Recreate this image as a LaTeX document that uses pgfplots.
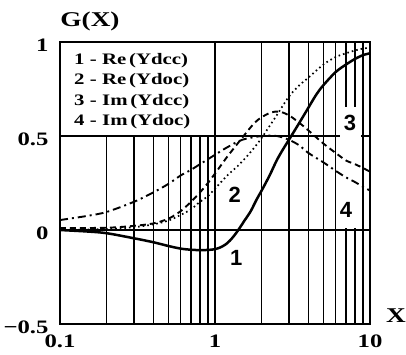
\documentclass[border=0pt]{standalone}
\usepackage{fontspec}
\setmainfont{Liberation Serif}[FakeStretch=1.3]
\newfontfamily\labelfont{Liberation Sans}
\usepackage{pgfplots}
\pgfplotsset{compat=1.18}

% Re and Im parts of the two admittances, G against X
\pgfplotstableread{
X     G
0.1   0
0.15  -0.008
0.2   -0.017
0.3   -0.044
0.4   -0.065
0.5   -0.085
0.6   -0.099
0.7   -0.105
0.8   -0.107
0.9   -0.106
1.0   -0.102
1.1   -0.09
1.2   -0.07
1.3   -0.04
1.4   -0.005
1.55  0.05
1.7   0.1
1.85  0.16
2.0   0.21
2.25  0.29
2.5   0.37
2.75  0.43
3.0   0.48
3.5   0.57
4.0   0.65
4.5   0.72
5.0   0.77
6.0   0.84
7.0   0.88
8.0   0.91
9.0   0.93
10    0.94
}\reYdcc
\pgfplotstableread{
X     G
0.1   0.0
0.2   0.005
0.3   0.015
0.4   0.03
0.5   0.05
0.6   0.08
0.7   0.11
0.8   0.15
0.9   0.18
1.0   0.22
1.2   0.29
1.4   0.34
1.6   0.39
1.8   0.44
2.0   0.49
2.5   0.61
3.0   0.71
3.5   0.77
4.0   0.81
5.0   0.88
6.0   0.92
7.0   0.94
8.0   0.955
9.0   0.965
10    0.97
}\reYdoc
\pgfplotstableread{
X     G
0.1   0.01
0.2   0.012
0.3   0.022
0.4   0.035
0.5   0.06
0.6   0.1
0.7   0.15
0.8   0.2
0.9   0.25
1.0   0.3
1.2   0.39
1.4   0.46
1.6   0.52
1.8   0.57
2.0   0.6
2.3   0.625
2.6   0.63
3.0   0.61
3.5   0.57
4.0   0.53
5.0   0.46
6.0   0.41
7.0   0.37
8.0   0.35
9.0   0.33
10    0.31
}\imYdcc
\pgfplotstableread{
X     G
0.1   0.053
0.15  0.075
0.2   0.096
0.3   0.15
0.4   0.2
0.5   0.245
0.6   0.29
0.7   0.32
0.8   0.35
1.0   0.40
1.2   0.44
1.5   0.48
2.0   0.5
2.5   0.5
3.0   0.48
3.5   0.45
4.0   0.41
5.0   0.36
6.0   0.315
7.0   0.28
8.0   0.255
9.0   0.23
10    0.21
}\imYdoc

\begin{document}
\begin{tikzpicture}
\begin{axis}[
  name=ax,
  xmode=log,
  scale only axis,
  width=310pt, height=282pt,
  xmin=0.1, xmax=10, ymin=-0.5, ymax=1,
  xtick={0.1,1,10}, xticklabels={0.1,1,10},
  minor xtick={0.2,0.3,0.4,0.5,0.6,0.7,0.8,0.9,2,3,4,5,6,7,8,9},
  ytick={-0.5,0,0.5,1}, yticklabels={−0.5,0,0.5,1},
  xmajorgrids, xminorgrids, ymajorgrids,
  major grid style={black, line width=1.2pt},
  minor grid style={black, line width=1.2pt},
  major tick length=0pt, minor tick length=0pt,
  axis line style={line width=1.4pt},
  ticklabel style={font=\fontsize{19}{19}\selectfont\bfseries},
  yticklabel style={anchor=east, xshift=-8pt, yshift=-3pt},
  xticklabel style={anchor=north, yshift=-7pt},
  clip=false,
]
  % blank panels behind the key and the curve numbers
  \fill[white] ([shift={(0.8pt,0.7pt)}]axis cs:0.1,0.5) rectangle ([shift={(-0.7pt,-0.8pt)}]axis cs:1,1);
  \fill[white] (axis cs:6.4,0.01) rectangle (axis cs:8.75,0.654);

  \addplot[black, line width=2.5pt, smooth] table {\reYdcc};
  \addplot[black, line width=1.7pt, smooth, dash pattern=on 1.6pt off 3pt] table {\reYdoc};
  \addplot[black, line width=1.9pt, smooth, dash pattern=on 6pt off 4pt] table {\imYdcc};
  \addplot[black, line width=1.9pt, smooth, dash pattern=on 8pt off 4pt on 2pt off 4pt] table {\imYdoc};

  % key
  \node[anchor=north west, align=left, inner sep=0pt,
        font=\fontsize{16}{20.5}\selectfont\bfseries]
    at ([shift={(14pt,-11pt)}]rel axis cs:0,1)
    {1\,\,-\,\,Re\,(Ydcc)\\2\,\,-\,\,Re\,(Ydoc)\\3\,\,-\,\,Im\,(Ydcc)\\4\,\,-\,\,Im\,(Ydoc)};

  % curve numbers
  \begin{scope}[every node/.style={font=\labelfont\bfseries\fontsize{22}{22}\selectfont}]
    \node at (axis cs:1.37,-0.149) {1};
    \node at (axis cs:1.34,0.186) {2};
    \node at (axis cs:7.43,0.569) {3};
    \node at (axis cs:7.0,0.106) {4};
  \end{scope}

  % axis names
  \node[font=\fontsize{21}{21}\selectfont\bfseries] at ([shift={(30pt,21pt)}]rel axis cs:0,1) {G(X)};
  \node[font=\fontsize{21}{21}\selectfont\bfseries] at ([shift={(26pt,8pt)}]rel axis cs:1,0) {X};
\end{axis}
\pgfresetboundingbox
\useasboundingbox ([shift={(-60pt,-30pt)}]ax.south west) rectangle ([shift={(36pt,42pt)}]ax.north east);
\end{tikzpicture}
\end{document}
